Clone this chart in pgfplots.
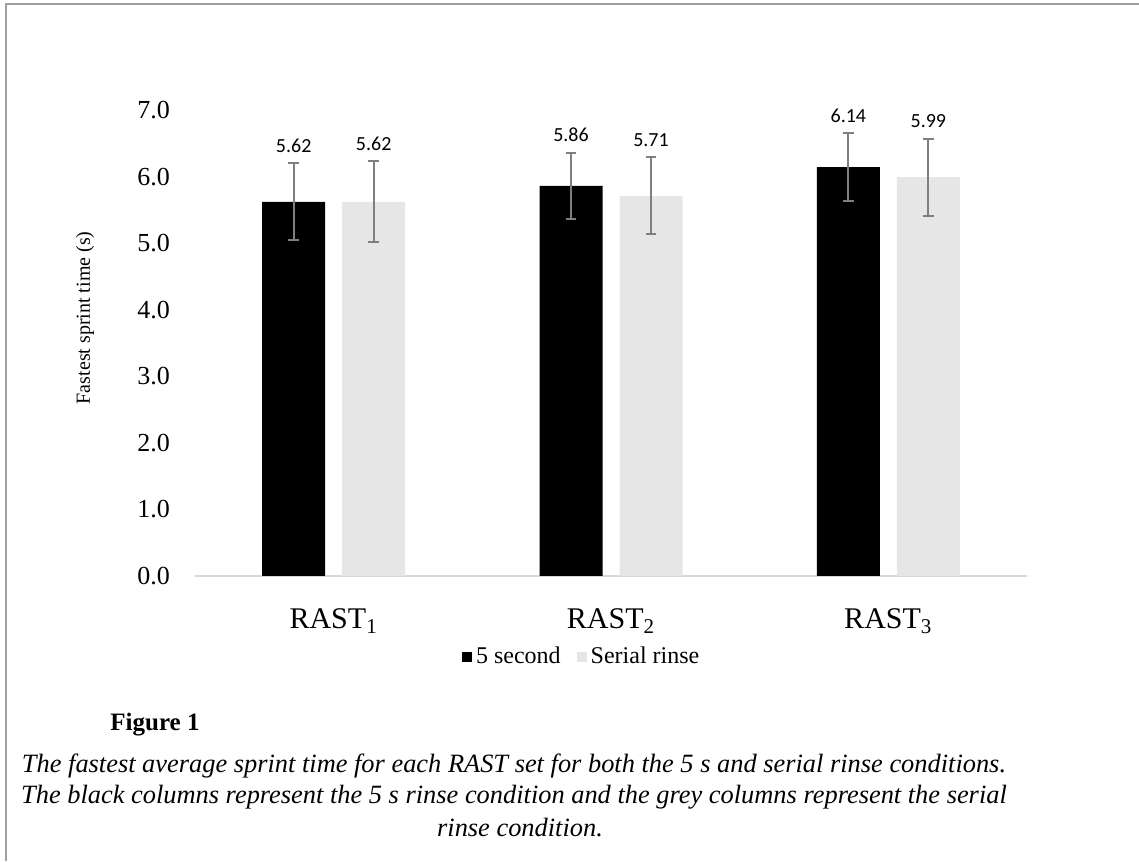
\documentclass[border=0pt]{standalone}
\usepackage{pgfplots}
\usepackage{pgfplotstable}
\pgfplotsset{compat=1.18}
\usepackage{fontspec}
\setmainfont{Liberation Serif}
\newfontfamily\calibri{Carlito}
\definecolor{bargrey}{HTML}{E6E6E6}
\definecolor{errgrey}{HTML}{7F7F7F}
\definecolor{framegrey}{HTML}{A0A0A0}
\definecolor{axisgrey}{HTML}{D9D9D9}

\pgfplotstableread{
x y err top
0 5.62 0.58 6.20
1 5.86 0.50 6.36
2 6.14 0.51 6.65
}\fivesec
\pgfplotstableread{
x y err top
0 5.62 0.61 6.23
1 5.71 0.58 6.29
2 5.99 0.58 6.57
}\serial

\pgfplotsset{
  lbl/.style={
    draw=none, fill=none, forget plot,
    nodes near coords, point meta=explicit symbolic,
    every node near coord/.append style={font=\calibri\fontsize{10}{11}\selectfont, black, yshift=2pt},
  },
  eb/.style={
    error bars/.cd, y dir=both, y explicit,
    error bar style={errgrey, line width=1pt},
    error mark options={rotate=90, errgrey, mark size=2.6pt, line width=1pt},
  },
}

\begin{document}
\begin{tikzpicture}
\path[use as bounding box] (0,0) rectangle (569.5pt,430.5pt);
\draw[framegrey, line width=1pt] (3pt,0) -- (3pt,428.5pt) -- (569.5pt,428.5pt);
\begin{axis}[
  at={(97.5pt,142.5pt)}, anchor=south west,
  scale only axis, width=416pt, height=233pt,
  ybar, bar width=31.5pt,
  xmin=-0.5, xmax=2.5, ymin=0, ymax=7,
  xtick={0,1,2},
  xticklabels={RAST\textsubscript{1},RAST\textsubscript{2},RAST\textsubscript{3}},
  ytick={0,1,...,7},
  yticklabel style={/pgf/number format/fixed, /pgf/number format/fixed zerofill, /pgf/number format/precision=1},
  /pgf/number format/assume math mode=true,
  y tick label style={font=\fontsize{13}{15}\selectfont, xshift=-9pt},
  x tick label style={font=\fontsize{15}{17}\selectfont, yshift=-13pt},
  major tick length=0pt,
  axis x line=bottom, axis y line=left,
  y axis line style={draw=none},
  x axis line style={draw=axisgrey, line width=1pt, -},
  ylabel={Fastest sprint time (s)},
  ylabel style={font=\fontsize{11.6}{13}\selectfont},
  every axis y label/.style={at={(axis description cs:-0.132,0.554)}, rotate=90, anchor=center},
  legend columns=2,
  legend style={at={(0.466,-0.174)}, anchor=center, draw=none, fill=none,
    font=\fontsize{12}{14}\selectfont,
    /tikz/every even column/.append style={column sep=6pt}},
  legend image code/.code={\fill[#1] (0pt,-2.5pt) rectangle (5pt,2.5pt);},
]
\addplot[fill=black, draw=none, bar shift=-20pt, eb]
  table[x=x, y=y, y error=err] {\fivesec};
\addlegendentry{5 second}
\addplot[fill=bargrey, draw=none, bar shift=20pt, eb]
  table[x=x, y=y, y error=err] {\serial};
\addlegendentry{Serial rinse}
\addplot[bar shift=-20pt, lbl] table[x=x, y=top, meta=y] {\fivesec};
\addplot[bar shift=20pt, lbl] table[x=x, y=top, meta=y] {\serial};
\end{axis}
\node[anchor=west, inner sep=0pt, font=\bfseries\fontsize{12.5}{15}\selectfont] at (55pt,68pt) {Figure 1};
\node[anchor=center, font=\itshape\fontsize{13.2}{15.5}\selectfont] at (257pt,47.5pt) {The fastest average sprint time for each RAST set for both the 5 s and serial rinse conditions.};
\node[anchor=center, font=\itshape\fontsize{13.2}{15.5}\selectfont] at (257pt,32pt) {The black columns represent the 5 s rinse condition and the grey columns represent the serial};
\node[anchor=center, font=\itshape\fontsize{13.2}{15.5}\selectfont] at (260pt,16.5pt) {rinse condition.};
\end{tikzpicture}
\end{document}
